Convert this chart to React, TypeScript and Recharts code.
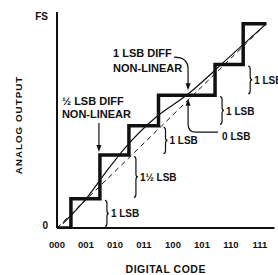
import React from "react";
import { LineChart, Line, XAxis, YAxis, ReferenceLine, ReferenceDot } from "recharts";

const FONT = "'Liberation Sans', Arial, Helvetica, sans-serif";
const INK = "#111";

// digital codes along the x axis
const codes = ["000", "001", "010", "011", "100", "101", "110", "111"];
const codeTicks = [0, 1, 2, 3, 4, 5, 6, 7];

// analog output axis (in LSB)
const outTicks = [0, 7.25];
const outTickLabels = ["0", "FS"];

// actual staircase: code where each step begins, and its output level
const stepStart = [0, 0.48, 1.48, 2.48, 3.5, 5.45, 6.42, 7.22];
const stepLevel = [0, 1, 2.5, 3.5, 4.55, 5.6, 7, 7];

// ideal straight line (dashed)
const idealCode = [0, 7.22];
const idealLevel = [0, 7];

// curve through the actual outputs (solid)
const curveCode = [0.2, 0.97, 1.66, 2.34, 3.38, 4.52, 5.9, 7.22];
const curveLevel = [0.15, 0.96, 1.88, 2.74, 3.77, 4.59, 5.82, 7];

// rise of each step, shown with a brace
const riseLabels = ["1 LSB", "1½ LSB", "1 LSB", "1 LSB", "1 LSB"];

// where the 1 LSB diff non-linearity is pointed at (code 101)
const flatCode = 4.52;

const stairData = stepStart.map((x, i) => ({ x, y: stepLevel[i] }));
const idealData = idealCode.map((x, i) => ({ x, y: idealLevel[i] }));
const curveData = curveCode.map((x, i) => ({ x, y: curveLevel[i] }));

const txt = { fill: INK, fontFamily: FONT, fontWeight: 700 };

function Brace({ x1, y1, y2, text }: any) {
  const x = x1 + 5;
  const top = Math.min(y1, y2) + 1.5;
  const bot = Math.max(y1, y2) - 1.5;
  const mid = (top + bot) / 2;
  const w = 4;
  const h = w / 2;
  const d = `M${x},${top} Q${x + h},${top} ${x + h},${top + 3} L${x + h},${mid - 3} Q${x + h},${mid} ${x + w},${mid} Q${x + h},${mid} ${x + h},${mid + 3} L${x + h},${bot - 3} Q${x + h},${bot} ${x},${bot}`;
  return (
    <g>
      <path d={d} fill="none" stroke={INK} strokeWidth={1.2} />
      <text x={x + w + 2} y={mid + 4} fontSize={10} {...txt}>
        {text}
      </text>
    </g>
  );
}

function HalfNote({ cx, cy }: any) {
  const ax = cx - 1;
  return (
    <g>
      <text x={cx - 38} y={cy - 50} fontSize={11} {...txt}>½ LSB DIFF</text>
      <text x={cx - 38} y={cy - 37} fontSize={11} {...txt}>NON-LINEAR</text>
      <line x1={ax} y1={cy - 32} x2={ax} y2={cy - 9} stroke={INK} strokeWidth={1.2} />
      <polygon points={`${ax},${cy - 3} ${ax - 2.5},${cy - 10} ${ax + 2.5},${cy - 10}`} fill={INK} />
    </g>
  );
}

function OneNote({ cx, cy }: any) {
  return (
    <g>
      <text x={cx - 75} y={cy - 38} fontSize={11} {...txt}>1 LSB DIFF</text>
      <text x={cx - 75} y={cy - 23} fontSize={11} {...txt}>NON-LINEAR</text>
      <path
        d={`M${cx - 14},${cy - 38} Q${cx},${cy - 38} ${cx},${cy - 26} L${cx},${cy - 11}`}
        fill="none"
        stroke={INK}
        strokeWidth={1.2}
      />
      <polygon points={`${cx},${cy - 5} ${cx - 2.5},${cy - 12} ${cx + 2.5},${cy - 12}`} fill={INK} />
      <polygon points={`${cx},${cy + 3.5} ${cx - 2.5},${cy + 10.5} ${cx + 2.5},${cy + 10.5}`} fill={INK} />
      <path
        d={`M${cx},${cy + 10} L${cx},${cy + 29} Q${cx},${cy + 37} ${cx + 8},${cy + 37} L${cx + 30},${cy + 37}`}
        fill="none"
        stroke={INK}
        strokeWidth={1.2}
      />
      <text x={cx + 34} y={cy + 45} fontSize={10} {...txt}>0 LSB</text>
    </g>
  );
}

function OutTick({ x, y, payload }: any) {
  const i = outTicks.indexOf(payload.value);
  return (
    <text x={x} y={y + (payload.value === 0 ? -3 : 0)} dy="0.355em" textAnchor="end" fontSize={10} {...txt}>
      {outTickLabels[i]}
    </text>
  );
}

export default function App() {
  return (
    <div style={{ position: "absolute", left: 0, top: 0, background: "#fff" }}>
      <LineChart width={278} height={275} margin={{ top: 12, right: 3.5, left: 12, bottom: 0 }}>
        <XAxis
          type="number"
          dataKey="x"
          domain={[0, 7.5]}
          allowDataOverflow
          ticks={codeTicks}
          interval={0}
          tickFormatter={(v) => codes[codeTicks.indexOf(v)]}
          tickLine={false}
          tickMargin={7}
          axisLine={{ stroke: INK, strokeWidth: 2 }}
          tick={{ fill: INK, fontSize: 9.5, fontWeight: 700, fontFamily: FONT }}
          height={47}
          label={{
            value: "DIGITAL CODE",
            position: "insideBottom",
            offset: 2,
            fill: INK,
            fontSize: 10.5,
            fontWeight: 700,
            fontFamily: FONT,
            letterSpacing: 0.5,
          }}
        />
        <YAxis
          type="number"
          domain={[0, 7.4]}
          allowDataOverflow
          ticks={outTicks}
          interval={0}
          tick={OutTick}
          tickLine={false}
          tickMargin={3}
          axisLine={{ stroke: INK, strokeWidth: 2 }}
          width={45}
          label={{
            value: "ANALOG OUTPUT",
            content: () => (
              <text
                x={22}
                y={125}
                transform="rotate(-90 22 125)"
                textAnchor="middle"
                fontSize={9.8}
                letterSpacing={1}
                {...txt}
              >
                ANALOG OUTPUT
              </text>
            ),
          }}
        />
        <Line
          data={idealData}
          dataKey="y"
          type="linear"
          stroke={INK}
          strokeWidth={1}
          strokeDasharray="5 4"
          dot={false}
          isAnimationActive={false}
        />
        <Line
          data={curveData}
          dataKey="y"
          type="monotone"
          stroke={INK}
          strokeWidth={1.2}
          dot={false}
          isAnimationActive={false}
        />
        <Line
          data={stairData}
          dataKey="y"
          type="stepAfter"
          stroke={INK}
          strokeWidth={3.5}
          strokeLinejoin="miter"
          dot={false}
          isAnimationActive={false}
        />
        {riseLabels.map((t, k) => (
          <ReferenceLine
            key={k}
            segment={[
              { x: stepStart[k + 2], y: stepLevel[k] },
              { x: stepStart[k + 2], y: stepLevel[k + 1] },
            ]}
            shape={(p: any) => <Brace {...p} text={t} />}
          />
        ))}
        <ReferenceDot x={stepStart[2]} y={stepLevel[2]} r={0} shape={(p: any) => <HalfNote cx={p.cx} cy={p.cy} />} />
        <ReferenceDot x={flatCode} y={stepLevel[4]} r={0} shape={(p: any) => <OneNote cx={p.cx} cy={p.cy} />} />
      </LineChart>
    </div>
  );
}
